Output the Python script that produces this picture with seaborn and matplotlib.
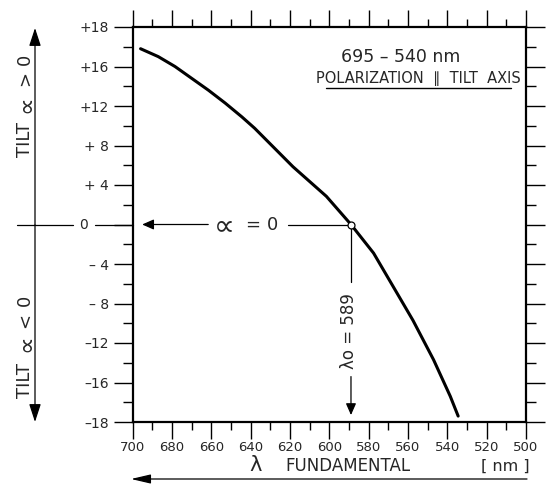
import numpy as np
import matplotlib
matplotlib.use("Agg")
import matplotlib.pyplot as plt
import seaborn as sns
from matplotlib.lines import Line2D
from matplotlib.ticker import FixedLocator, FixedFormatter

# Tilt angle of the crystal versus fundamental wavelength (695 - 540 nm, polarization parallel to tilt axis)
wavelength_nm = [696, 687, 678.5, 670, 661.5, 653, 644.5, 638, 618.5, 601.5,
                 589, 577.5, 567.5, 557.5, 547, 538.5, 534.5]
tilt_deg = [16.9, 16.5, 16.0, 14.8, 13.6, 12.3, 10.9, 9.75, 5.85, 2.85,
            0.0, -2.9, -6.3, -9.7, -13.7, -16.7, -17.7]

lambda_zero = 589

x_major = [700, 680, 660, 640, 620, 600, 580, 560, 540, 520, 500]
x_minor = [690, 670, 650, 630, 610, 590, 570, 550, 530, 510]
y_major = [-18, -16, -12, -8, -4, 0, 4, 8, 12, 16, 18]
y_labels = ["\u201318", "\u201316", "\u201312", "\u2013 8", "\u2013 4", "",
            "+ 4", "+ 8", "+12", "+16", "+18"]
y_minor = [-17, -14, -10, -6, -2, 2, 6, 10, 14, 17]

sns.set_theme(style="white")
plt.rcParams["font.family"] = ["DejaVu Sans"]
plt.rcParams["axes.edgecolor"] = "black"

W, H = 551, 484
fig = plt.figure(figsize=(W / 100, H / 100), dpi=100)
fig.patch.set_facecolor("white")


def fx(x):
    return x / W


def fy(y):
    return 1 - y / H


ax = fig.add_axes([fx(132.7), fy(422), (526 - 132.7) / W, (422 - 27) / H])


# the outermost step (16..18) is drawn at double spacing
def fwd(v):
    v = np.asarray(v, dtype=float)
    a = np.abs(v)
    return np.where(a <= 16, v, np.sign(v) * (16 + 2 * (a - 16)))


def inv(u):
    u = np.asarray(u, dtype=float)
    a = np.abs(u)
    return np.where(a <= 16, u, np.sign(u) * (16 + (a - 16) / 2))


ax.set_yscale("function", functions=(fwd, inv))

sns.lineplot(x=wavelength_nm, y=tilt_deg, sort=False, color="black",
             linewidth=2.2, ax=ax, estimator=None)

ax.set_xlim(700, 500)
ax.set_ylim(-18, 18)

ax.xaxis.set_major_locator(FixedLocator(x_major))
ax.xaxis.set_minor_locator(FixedLocator(x_minor))
ax.xaxis.set_major_formatter(FixedFormatter([str(v) for v in x_major]))
ax.yaxis.set_major_locator(FixedLocator(y_major))
ax.yaxis.set_minor_locator(FixedLocator(y_minor))
ax.yaxis.set_major_formatter(FixedFormatter(y_labels))
ax.yaxis.set_minor_formatter(FixedFormatter([""] * len(y_minor)))
ax.xaxis.set_minor_formatter(FixedFormatter([""] * len(x_minor)))

for s in ax.spines.values():
    s.set_linewidth(1.6)
    s.set_color("black")

ax.tick_params(axis="y", which="both", left=True, right=True, direction="out",
               width=1.0, color="black", labelsize=10, pad=3)
ax.tick_params(axis="y", which="major", length=14)
ax.tick_params(axis="y", which="minor", length=7)
ax.tick_params(axis="x", which="both", top=True, bottom=True, direction="out",
               width=1.0, color="black", labelsize=9.5, pad=2)
ax.tick_params(axis="x", which="major", length=12)
ax.tick_params(axis="x", which="minor", length=6)
ax.set_xlabel("")
ax.set_ylabel("")

thin = dict(color="black", linewidth=0.9)
head_small = dict(arrowstyle="-|>,head_length=0.5,head_width=0.22",
                  mutation_scale=14, color="black", lw=0.9,
                  shrinkA=0, shrinkB=0)

# alpha = 0 reference line
ax.annotate("", xy=(695.2, 0), xytext=(661.6, 0), arrowprops=head_small)
ax.plot([621, lambda_zero], [0, 0], **thin)
ax.text(653.6, -0.12, "\u221d", ha="center", va="center", fontsize=21)
ax.text(638.8, 0, "=", ha="center", va="center", fontsize=13)
ax.text(628.7, 0, "0", ha="center", va="center", fontsize=13)

# lambda_0 marker line
ax.plot([lambda_zero, lambda_zero], [0, -5.85], **thin)
ax.text(lambda_zero + 0.8, -10.8, "\u03bbo = 589", rotation=90, ha="center",
        va="center", fontsize=12)
ax.annotate("", xy=(lambda_zero, -17.65), xytext=(lambda_zero, -15.4),
            arrowprops=head_small)
ax.plot([lambda_zero], [0], marker="o", markersize=5, markerfacecolor="white",
        markeredgecolor="black", markeredgewidth=0.9, zorder=6)

# zero label and its leader on the left
fig.text(fx(83), fy(225), "0", ha="center", va="center", fontsize=10)
fig.add_artist(Line2D([fx(95), fx(132.7)], [fy(225), fy(225)],
                      transform=fig.transFigure, **thin))

# left tilt-direction double arrow
head_big = dict(arrowstyle="-|>,head_length=0.55,head_width=0.18",
                mutation_scale=20, color="black", lw=0.9, shrinkA=0, shrinkB=0)
for tip in (28, 422):
    ax.annotate("", xy=(fx(35), fy(tip)), xytext=(fx(35), fy(225)),
                xycoords="figure fraction", textcoords="figure fraction",
                arrowprops=head_big, annotation_clip=False)
fig.add_artist(Line2D([fx(17), fx(73)], [fy(225), fy(225)],
                      transform=fig.transFigure, **thin))

# rotated "TILT ∝ > 0" / "TILT ∝ < 0" captions, set piece by piece
tilt_parts = [
    ("TILT", 140, 13, 25), ("\u221d", 104, 18, 26), (">", 79, 13, 25),
    ("0", 59, 13, 25),
    ("TILT", 381, 13, 25), ("\u221d", 343, 18, 26), ("<", 321, 13, 25),
    ("0", 300, 13, 25),
]
for txt, yc, size, xc in tilt_parts:
    fig.text(fx(xc), fy(yc), txt, rotation=90, ha="center", va="center",
             fontsize=size)

# x-axis caption with arrow
fig.text(fx(256), fy(465), "\u03bb", ha="center", va="center", fontsize=15)
fig.text(fx(348), fy(466), "FUNDAMENTAL", ha="center", va="center",
         fontsize=12)
fig.text(fx(505), fy(466), "[ nm ]", ha="center", va="center", fontsize=11.5)
ax.annotate("", xy=(fx(131), fy(479)), xytext=(fx(527), fy(479)),
            xycoords="figure fraction", textcoords="figure fraction",
            arrowprops=dict(arrowstyle="-|>,head_length=0.6,head_width=0.14",
                            mutation_scale=20, color="black", lw=0.9,
                            shrinkA=0, shrinkB=0),
            annotation_clip=False)

# title block
fig.text(fx(401), fy(57), "695 \u2013 540 nm", ha="center", va="center",
         fontsize=12.5)
fig.text(fx(418), fy(79), "POLARIZATION  \u2225  TILT  AXIS", ha="center",
         va="center", fontsize=10.5)
fig.add_artist(Line2D([fx(326), fx(511)], [fy(88), fy(88)],
                      transform=fig.transFigure, color="black", linewidth=1.0))

fig.savefig("out.png", dpi=100, facecolor="white")
